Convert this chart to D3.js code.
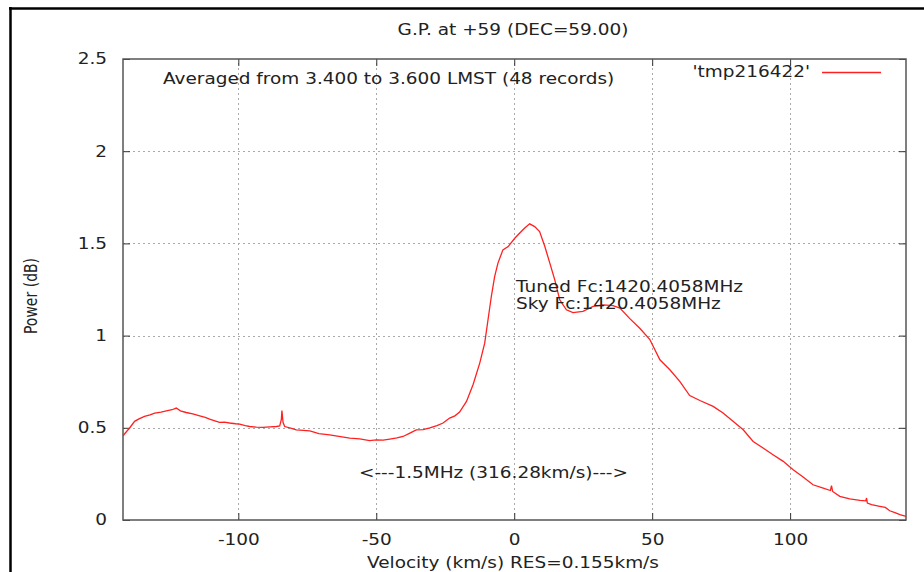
<!DOCTYPE html>
<html>
<head>
<meta charset="utf-8">
<script src="https://cdn.jsdelivr.net/npm/d3@7"></script>
<style>
  body { margin: 0; background: #fff; }
  text { font-family: "DejaVu Sans", sans-serif; fill: #222; }
</style>
</head>
<body>
<div id="chart"></div>
<script>
// spectrum: velocity (km/s) and power (dB)
var velocity = [-141.8, -140.5, -139.4, -137.6, -136, -134, -132, -130.3, -128, -126.1, -124, -122.5, -121, -118.9, -116.5, -114,
  -112, -110.4, -108.5, -106.8, -105, -103.2, -101, -99.5, -97.5, -95.9, -93.5, -91.1, -88.5, -86.2, -85, -84.4, -84.2, -83.8, -83.2,
  -81, -79, -76.5, -74.1, -70.8, -66.9, -63, -59.6, -56, -52.4, -50, -47.5, -45.1, -42.5, -40.3, -38, -35.5, -33, -30.6, -28, -25.8,
  -23.4, -21.5, -19.8, -17.3, -14.9, -12.5, -10.7, -9.5, -8.3, -7.1, -5.9, -4.1, -2.2, 0.2, 2, 3.8, 5.6, 7.4, 9.2, 11.1, 12.9, 14.7,
  16.5, 18.9, 21.3, 24.9, 28.6, 32.2, 35.8, 38.3, 41.9, 45.5, 49.1, 52.8, 56.4, 60, 63.6, 67.3, 72.1, 75.7, 79.3, 83, 86.6, 90.2,
  93.8, 97.5, 101.1, 104.7, 108.3, 112, 114.6, 115, 115.4, 118, 121.6, 125.3, 127.4, 127.7, 128, 129.5, 132.5, 134.5, 136.1, 138, 139.8, 142];
var power = [0.457, 0.48, 0.499, 0.535, 0.548, 0.562, 0.57, 0.58, 0.585, 0.592, 0.598, 0.607, 0.592, 0.583, 0.575, 0.565,
  0.556, 0.547, 0.538, 0.529, 0.531, 0.526, 0.522, 0.52, 0.512, 0.507, 0.504, 0.502, 0.505, 0.507, 0.51, 0.545, 0.594, 0.53, 0.507,
  0.498, 0.489, 0.486, 0.483, 0.468, 0.462, 0.452, 0.444, 0.44, 0.431, 0.435, 0.433, 0.439, 0.445, 0.453, 0.47, 0.489, 0.49, 0.499, 0.512, 0.526,
  0.553, 0.565, 0.585, 0.643, 0.735, 0.851, 0.959, 1.086, 1.212, 1.32, 1.393, 1.465, 1.483, 1.528, 1.556, 1.583, 1.606, 1.591, 1.564, 1.483, 1.393, 1.302,
  1.194, 1.14, 1.125, 1.131, 1.158, 1.167, 1.162, 1.149, 1.092, 1.04, 0.98, 0.869, 0.815, 0.752, 0.675, 0.648, 0.616, 0.58, 0.535, 0.489, 0.426, 0.39,
  0.354, 0.318, 0.273, 0.233, 0.191, 0.173, 0.16, 0.186, 0.155, 0.128, 0.114, 0.106, 0.104, 0.119, 0.092, 0.083, 0.074, 0.068, 0.05, 0.04, 0.029, 0.02];

var xTicks = [-100, -50, 0, 50, 100];
var yTicks = [0, 0.5, 1, 1.5, 2, 2.5];

var width = 924, height = 572;
var margin = {top: 59, right: 18, bottom: 52, left: 123};
var stretch = 1.23; // the source picture is wider than tall, text looks stretched sideways

var svg = d3.select("#chart").append("svg")
    .attr("width", width)
    .attr("height", height);

// outer frame (only top and left edges show)
svg.append("line").attr("x1", 9).attr("x2", width).attr("y1", 8.5).attr("y2", 8.5)
    .attr("stroke", "#000").attr("stroke-width", 2.5);
svg.append("line").attr("x1", 10.5).attr("x2", 10.5).attr("y1", 7).attr("y2", height)
    .attr("stroke", "#000").attr("stroke-width", 2.5);

var x = d3.scaleLinear().domain([-141.8, 142]).range([margin.left, width - margin.right]);
var y = d3.scaleLinear().domain([0, 2.5]).range([height - margin.bottom, margin.top]);

var x0 = x.range()[0], x1 = x.range()[1], y0 = y.range()[0], y1 = y.range()[1];

// grid
var grid = svg.append("g").attr("stroke", "#aaa").attr("stroke-dasharray", "2,3").attr("stroke-width", 1);
grid.selectAll(".gx").data(xTicks).enter().append("line")
    .attr("x1", function (d) { return Math.round(x(d)) + 0.5; })
    .attr("x2", function (d) { return Math.round(x(d)) + 0.5; })
    .attr("y1", y0).attr("y2", y1);
grid.selectAll(".gy").data(yTicks.filter(function (d) { return d > 0 && d < 2.5; })).enter().append("line")
    .attr("y1", function (d) { return Math.round(y(d)) + 0.5; })
    .attr("y2", function (d) { return Math.round(y(d)) + 0.5; })
    .attr("x1", x0).attr("x2", x1);

// axes: ticks point inward and are mirrored on top/right
var fmt = function (d) { return String(d); };
var axBottom = svg.append("g").attr("transform", "translate(0," + y0 + ")")
    .call(d3.axisBottom(x).tickValues(xTicks).tickSizeInner(-7).tickSizeOuter(0).tickPadding(14).tickFormat(fmt));
var axTop = svg.append("g").attr("transform", "translate(0," + y1 + ")")
    .call(d3.axisTop(x).tickValues(xTicks).tickSizeInner(-7).tickSizeOuter(0).tickFormat(""));
var axLeft = svg.append("g").attr("transform", "translate(" + x0 + ",0)")
    .call(d3.axisLeft(y).tickValues(yTicks).tickSizeInner(-7).tickSizeOuter(0).tickPadding(16).tickFormat(fmt));
var axRight = svg.append("g").attr("transform", "translate(" + x1 + ",0)")
    .call(d3.axisRight(y).tickValues(yTicks).tickSizeInner(-7).tickSizeOuter(0).tickFormat(""));

[axBottom, axTop, axLeft, axRight].forEach(function (g) {
  g.select(".domain").remove();
  g.selectAll("line").attr("stroke", "#333");
  g.attr("font-size", 15).attr("font-family", "DejaVu Sans");
  g.selectAll("text").attr("fill", "#222");
});

// plot border
svg.append("rect").attr("x", x0).attr("y", y1).attr("width", x1 - x0).attr("height", y0 - y1)
    .attr("fill", "none").attr("stroke", "#555").attr("stroke-width", 1.5);

// the spectrum
var line = d3.line()
    .x(function (d, i) { return x(velocity[i]); })
    .y(function (d) { return y(d); });
svg.append("path").datum(power)
    .attr("d", line)
    .attr("fill", "none")
    .attr("stroke", "#ff2020")
    .attr("stroke-width", 1.3);

// texts
function label(txt, px, py, anchor) {
  return svg.append("text").attr("x", px).attr("y", py)
      .attr("font-size", 15).attr("text-anchor", anchor || "start").text(txt);
}
label("G.P. at +59 (DEC=59.00)", 513, 35, "middle");
label("Averaged from 3.400 to 3.600 LMST (48 records)", 163, 84);
label("'tmp216422'", 810, 77, "end");
svg.append("line").attr("x1", 822).attr("x2", 881).attr("y1", 72.5).attr("y2", 72.5)
    .attr("stroke", "#ff2020").attr("stroke-width", 1.3);
label("Tuned Fc:1420.4058MHz", 516, 292);
label("Sky Fc:1420.4058MHz", 516, 309);
label("<---1.5MHz (316.28km/s)--->", 359, 478);
label("Velocity (km/s) RES=0.155km/s", 513, 568, "middle");

// widen every horizontal text like the source
svg.selectAll("text").each(function () {
  var w = this.getComputedTextLength();
  d3.select(this).attr("textLength", w * stretch).attr("lengthAdjust", "spacingAndGlyphs");
});

// rotated label: glyphs get wider on screen-x instead
svg.append("text").attr("transform", "translate(37,296) scale(" + stretch + ",1) rotate(-90)")
    .attr("font-size", 14).attr("text-anchor", "middle").text("Power (dB)");
</script>
</body>
</html>
